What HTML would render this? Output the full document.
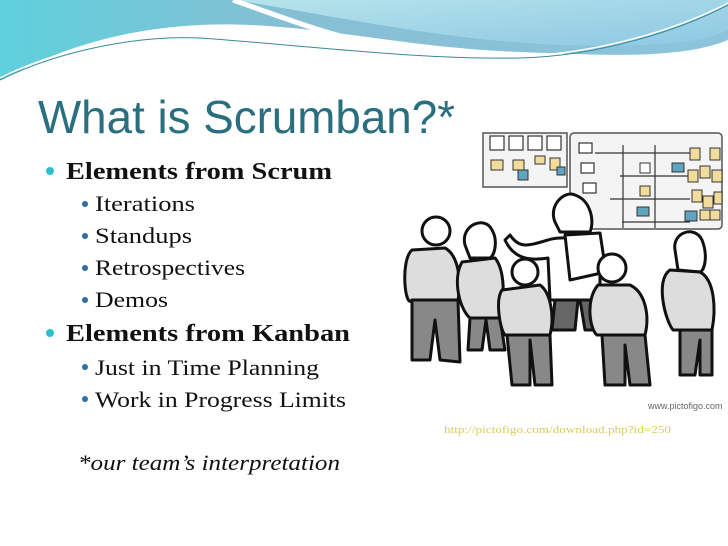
<!DOCTYPE html>
<html><head><meta charset="utf-8"><style>html,body{margin:0;padding:0;background:#fff}svg{display:block}</style></head>
<body>
<svg width="728" height="546" viewBox="0 0 728 546" xmlns="http://www.w3.org/2000/svg">
<defs>
<linearGradient id="g1" x1="0" y1="0" x2="1" y2="0"><stop offset="0" stop-color="#5fd0dc"/><stop offset="0.4" stop-color="#86bfd4"/><stop offset="1" stop-color="#8cc4dc"/></linearGradient>
<linearGradient id="g2" x1="0" y1="0" x2="1" y2="1"><stop offset="0" stop-color="#b6e4ea"/><stop offset="1" stop-color="#8ec8e4"/></linearGradient>
</defs>
<rect width="728" height="546" fill="#fff"/>
<path d="M0 0 H728 V40 C680 60 600 55 520 52 C400 48 300 20 200 25 C100 30 40 60 0 80 Z" fill="url(#g1)"/>
<path d="M235 0 H728 V30 C700 45 640 47 560 45 C440 40 330 15 235 0 Z" fill="url(#g2)"/>
<path d="M233 0 C290 20 330 36 380 45" stroke="#fff" stroke-width="5" fill="none"/>
<path d="M0 80 C60 50 140 35 200 38 C300 45 420 60 520 58 C600 56 680 30 728 5" stroke="#3a8a9a" stroke-width="1" fill="none"/>
<path d="M0 78 C60 48 140 33 200 36 C300 43 420 58 520 56 C600 54 680 28 728 3" stroke="#fff" stroke-width="1.5" fill="none"/>
<text x="38" y="133" font-family="Liberation Sans, sans-serif" font-size="46" fill="#2a6f80" textLength="417" lengthAdjust="spacingAndGlyphs">What is Scrumban?*</text>
<g font-family="Liberation Serif, serif" fill="#111">
<circle cx="50" cy="171" r="4" fill="#2bc0d0"/>
<text x="66" y="179" font-size="24" font-weight="bold" textLength="266" lengthAdjust="spacingAndGlyphs">Elements from Scrum</text>
<circle cx="85" cy="204" r="3" fill="#2f6fa8"/>
<text x="95" y="211" font-size="22" textLength="100" lengthAdjust="spacingAndGlyphs">Iterations</text>
<circle cx="85" cy="236" r="3" fill="#2f6fa8"/>
<text x="95" y="243" font-size="22" textLength="97" lengthAdjust="spacingAndGlyphs">Standups</text>
<circle cx="85" cy="268" r="3" fill="#2f6fa8"/>
<text x="95" y="275" font-size="22" textLength="150" lengthAdjust="spacingAndGlyphs">Retrospectives</text>
<circle cx="85" cy="300" r="3" fill="#2f6fa8"/>
<text x="95" y="307" font-size="22" textLength="73" lengthAdjust="spacingAndGlyphs">Demos</text>
<circle cx="50" cy="333" r="4" fill="#2bc0d0"/>
<text x="66" y="341" font-size="24" font-weight="bold" textLength="284" lengthAdjust="spacingAndGlyphs">Elements from Kanban</text>
<circle cx="85" cy="367" r="3" fill="#2f6fa8"/>
<text x="95" y="375" font-size="22" textLength="224" lengthAdjust="spacingAndGlyphs">Just in Time Planning</text>
<circle cx="85" cy="399" r="3" fill="#2f6fa8"/>
<text x="95" y="407" font-size="22" textLength="251" lengthAdjust="spacingAndGlyphs">Work in Progress Limits</text>
<text x="78" y="470" font-size="22" font-style="italic" textLength="262" lengthAdjust="spacingAndGlyphs">*our team’s interpretation</text>
</g>
<g stroke="#555" stroke-width="1.5" fill="#f4f4f4">
<rect x="483" y="133" width="84" height="54"/>
<rect x="570" y="133" width="152" height="96" rx="4"/>
</g>
<g stroke="#333" stroke-width="1.2" fill="#fff">
<rect x="490" y="136" width="14" height="14"/><rect x="509" y="136" width="14" height="14"/><rect x="528" y="136" width="14" height="14"/><rect x="547" y="136" width="14" height="14"/>
<rect x="579" y="143" width="13" height="10"/><rect x="581" y="163" width="13" height="10"/><rect x="583" y="183" width="13" height="10"/>
<path d="M595 153 H690 M620 176 H690 M610 199 H690 M622 222 H690 M623 145 V228 M655 145 V228" fill="none"/>
</g>
<g stroke="#333" stroke-width="1" fill="#f2dc9c">
<rect x="491" y="160" width="12" height="10"/><rect x="513" y="160" width="11" height="10"/><rect x="535" y="156" width="10" height="8"/><rect x="550" y="158" width="10" height="12"/>
<rect x="690" y="148" width="10" height="12"/><rect x="710" y="148" width="10" height="12"/><rect x="688" y="170" width="10" height="12"/><rect x="700" y="166" width="10" height="12"/><rect x="712" y="170" width="10" height="12"/>
<rect x="692" y="190" width="10" height="12"/><rect x="703" y="196" width="10" height="12"/><rect x="714" y="192" width="8" height="12"/>
<rect x="640" y="186" width="10" height="10"/><rect x="640" y="163" width="10" height="10" fill="#fff"/><rect x="700" y="210" width="10" height="10"/><rect x="710" y="210" width="10" height="10"/>
</g>
<g stroke="#333" stroke-width="1" fill="#5fa4c0">
<rect x="518" y="170" width="10" height="10"/><rect x="557" y="167" width="8" height="8"/><rect x="672" y="163" width="12" height="9"/><rect x="637" y="207" width="12" height="9"/><rect x="685" y="211" width="12" height="10"/>
</g>
<g stroke="#111" stroke-width="3" stroke-linejoin="round">
<path d="M555 222 C548 205 565 190 575 195 C590 200 595 220 590 232 L560 232 Z" fill="#fff"/>
<path d="M548 240 C530 245 520 250 510 235 L505 240 C515 262 535 260 548 258 L550 300 L600 300 L600 245 C590 238 560 236 548 240Z" fill="#fff"/>
<path d="M555 300 L552 330 L575 330 L578 300Z M580 300 L585 330 L600 330 L600 300Z" fill="#666"/>
<path d="M565 235 L600 233 L606 272 L570 280Z" fill="#fff"/>
<circle cx="436" cy="231" r="14" fill="#fff"/>
<path d="M412 250 C400 260 405 310 412 300 L458 300 C462 280 458 255 445 248 Z" fill="#ddd"/>
<path d="M412 300 L412 360 L430 360 L435 320 L440 360 L460 362 L458 300Z" fill="#888"/>
<path d="M465 245 C460 225 485 215 492 230 C498 240 495 255 490 258 L470 258Z" fill="#fff"/>
<path d="M462 262 C452 280 460 310 470 318 L500 318 C505 300 505 270 495 258 Z" fill="#ddd"/>
<path d="M470 318 L468 350 L482 350 L486 320 L490 350 L505 350 L500 318Z" fill="#888"/>
<circle cx="525" cy="272" r="13" fill="#fff"/>
<path d="M502 290 C495 300 500 330 505 335 L550 335 C555 315 550 292 540 285Z" fill="#ddd"/>
<path d="M507 335 L512 385 L530 385 L530 340 L535 385 L552 385 L550 335Z" fill="#888"/>
<circle cx="612" cy="268" r="14" fill="#fff"/>
<path d="M598 285 C585 300 590 330 597 335 L645 335 C650 315 645 292 630 285Z" fill="#ddd"/>
<path d="M602 335 L605 385 L625 385 L625 345 L630 385 L650 385 L645 335Z" fill="#888"/>
<path d="M675 250 C672 232 695 225 702 240 C708 255 705 270 700 272 L678 270Z" fill="#fff"/>
<path d="M670 270 C655 280 665 320 673 330 L712 330 C716 310 715 280 700 272Z" fill="#ddd"/>
<path d="M680 330 L680 375 L695 375 L700 340 L700 375 L712 375 L712 330Z" fill="#888"/>
</g>
<text x="648" y="409" font-family="Liberation Sans, sans-serif" font-size="9" fill="#666">www.pictofigo.com</text>
<text x="444" y="433" font-family="Liberation Serif, serif" font-size="11" fill="#d8cc5a" textLength="227" lengthAdjust="spacingAndGlyphs">http://pictofigo.com/download.php?id=250</text>
</svg>
</body></html>
